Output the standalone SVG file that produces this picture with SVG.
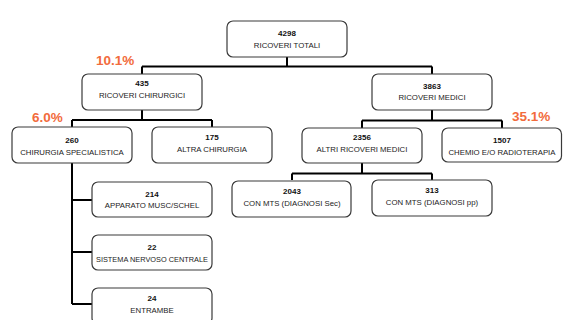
<svg xmlns="http://www.w3.org/2000/svg" width="563" height="320" viewBox="0 0 563 320">
<style>
.box{fill:#fff;stroke:#3a3a3a;stroke-width:1.2}
.num{font-family:"Liberation Sans",Arial,sans-serif;font-weight:bold;font-size:8px;fill:#111;text-anchor:middle}
.lbl{font-family:"Liberation Sans",Arial,sans-serif;font-size:7.8px;fill:#222;text-anchor:middle}
.pct{font-family:"Liberation Sans",Arial,sans-serif;font-weight:bold;font-size:13.5px;fill:#F26B3C}
.conn{fill:none;stroke:#000;stroke-width:2}
</style>
<rect width="563" height="320" fill="#fff"/>
<g id="connectors" class="conn">
<path d="M287 57V66.5M142 66.5H432M142 66.5V74M432 66.5V74"/>
<path d="M142 110V120M72 120H212M72 120V127M212 120V127"/>
<path d="M432 110V120.5M362 120.5H502M362 120.5V128M502 120.5V128"/>
<path d="M362 163V173.5M292 173.5H432M292 173.5V180M432 173.5V180"/>
<path d="M72 163V304M72 200H92M72 252H92M72 304H92"/>
</g>
<g id="n4298"><rect class="box" x="227" y="21" width="120" height="36" rx="6"/><text class="num" x="287" y="36">4298</text><text class="lbl" x="287" y="48">RICOVERI TOTALI</text></g>
<g id="n435"><rect class="box" x="82" y="74" width="120" height="36" rx="6"/><text class="num" x="142" y="86">435</text><text class="lbl" x="142" y="98">RICOVERI CHIRURGICI</text></g>
<g id="n3863"><rect class="box" x="372" y="74" width="120" height="36" rx="6"/><text class="num" x="432" y="89">3863</text><text class="lbl" x="432" y="100">RICOVERI MEDICI</text></g>
<g id="n260"><rect class="box" x="12" y="127" width="120" height="36" rx="6"/><text class="num" x="72" y="143">260</text><text class="lbl" x="72" y="154.5">CHIRURGIA SPECIALISTICA</text></g>
<g id="n175"><rect class="box" x="152" y="127" width="120" height="36" rx="6"/><text class="num" x="212" y="139.5">175</text><text class="lbl" x="212" y="152">ALTRA CHIRURGIA</text></g>
<g id="n2356"><rect class="box" x="302" y="128" width="120" height="35" rx="6"/><text class="num" x="362" y="140">2356</text><text class="lbl" x="362" y="152">ALTRI RICOVERI MEDICI</text></g>
<g id="n1507"><rect class="box" x="442" y="128" width="119.5" height="34" rx="6"/><text class="num" x="502" y="143">1507</text><text class="lbl" x="502" y="154.5">CHEMIO E/O RADIOTERAPIA</text></g>
<g id="n2043"><rect class="box" x="232" y="181" width="119" height="36" rx="6"/><text class="num" x="292" y="194">2043</text><text class="lbl" x="292" y="205.5">CON MTS (DIAGNOSI Sec)</text></g>
<g id="n313"><rect class="box" x="372" y="180" width="120" height="36" rx="6"/><text class="num" x="432" y="193">313</text><text class="lbl" x="432" y="204.5">CON MTS (DIAGNOSI pp)</text></g>
<g id="n214"><rect class="box" x="92" y="182" width="120" height="35" rx="6"/><text class="num" x="152" y="197">214</text><text class="lbl" x="152" y="208">APPARATO MUSC/SCHEL</text></g>
<g id="n22"><rect class="box" x="92" y="235" width="120" height="35" rx="6"/><text class="num" x="152" y="250">22</text><text class="lbl" x="152" y="261.5" textLength="112" lengthAdjust="spacingAndGlyphs">SISTEMA NERVOSO CENTRALE</text></g>
<g id="n24"><rect class="box" x="92" y="288" width="120" height="36" rx="6"/><text class="num" x="152" y="301">24</text><text class="lbl" x="152" y="313">ENTRAMBE</text></g>
<text class="pct" x="96" y="65">10.1%</text>
<text class="pct" x="32" y="122">6.0%</text>
<text class="pct" x="512" y="121">35.1%</text>
</svg>
